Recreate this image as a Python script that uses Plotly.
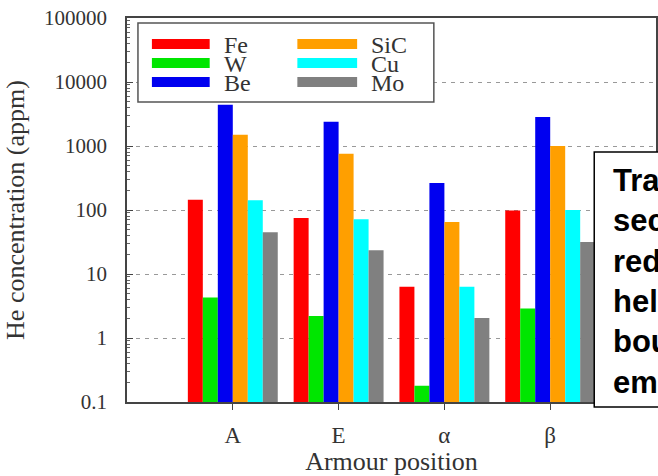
import plotly.graph_objects as go

categories = ["A", "E", "α", "β"]
series_names = ["Fe", "W", "Be", "SiC", "Cu", "Mo"]
fe_vals = [145, 75, 6.3, 98]
w_vals = [4.3, 2.2, 0.18, 2.9]
be_vals = [4400, 2400, 265, 2850]
sic_vals = [1500, 760, 65, 1000]
cu_vals = [142, 72, 6.3, 100]
mo_vals = [45, 23.5, 2.05, 31.5]
series_values = [fe_vals, w_vals, be_vals, sic_vals, cu_vals, mo_vals]
colors = ["#ff0000", "#00e600", "#0000f0", "#ff9f00", "#00ffff", "#808080"]
ytick_vals = [0.1, 1, 10, 100, 1000, 10000, 100000]
ytick_text = ["0.1", "1", "10", "100", "1000", "10000", "100000"]
box_lines = ["Transmutation products:", "second-phase formation,", "reduced conductivity,",
             "helium bubbles at grain", "boundaries,", "embrittlement"]

W, H = 658, 476
ML, MR, MT, MB = 127, 0, 18, 74
PW, PH = W - ML - MR, H - MT - MB
SERIF = "Liberation Serif, Times New Roman, serif"


def px(x):
    return (x - ML) / PW


def py(y):
    return (H - MB - y) / PH


fig = go.Figure()
for name, vals, col in zip(series_names, series_values, colors):
    fig.add_trace(go.Bar(x=categories, y=vals, name=name, marker=dict(color=col, line=dict(width=0)),
                         showlegend=False))

shapes = []
annotations = []
# legend frame
shapes.append(dict(type="rect", xref="paper", yref="paper", x0=px(138), x1=px(435), y0=py(102), y1=py(23),
                   line=dict(color="#555555", width=1.5), fillcolor="white", layer="above"))
row_y = [44, 63, 82]
col_x = [(152, 210, 222), (298, 358, 370)]
for i, (name, col) in enumerate(zip(series_names, colors)):
    c = i // 3
    r = i % 3
    x0, x1, xt = col_x[c]
    yc = row_y[r]
    shapes.append(dict(type="rect", xref="paper", yref="paper", x0=px(x0), x1=px(x1), y0=py(yc + 5), y1=py(yc - 5),
                       line=dict(width=0), fillcolor=col, layer="above"))
    annotations.append(dict(text=name, xref="paper", yref="paper", x=px(xt), y=py(yc + 1), xanchor="left",
                            yanchor="middle", showarrow=False, font=dict(family=SERIF, size=24, color="#333")))

# text box (extends past the right edge of the picture)
shapes.append(dict(type="rect", xref="paper", yref="paper", x0=px(596), x1=px(760), y0=py(407), y1=py(152),
                   line=dict(color="black", width=1.5), fillcolor="white", layer="above"))
annotations.append(dict(text="<br>".join("<b>%s</b>" % s for s in box_lines), xref="paper", yref="paper",
                        x=px(614), y=py(162), xanchor="left", yanchor="top", align="left", showarrow=False,
                        font=dict(family="Liberation Sans, Arial, sans-serif", size=31, color="black"),
                        borderpad=0))

fig.update_layout(
    width=W, height=H, margin=dict(l=ML, r=MR, t=MT, b=MB),
    paper_bgcolor="white", plot_bgcolor="white",
    barmode="group", bargap=0.15, bargroupgap=0,
    shapes=shapes, annotations=annotations, showlegend=False,
    font=dict(family=SERIF, color="#333"),
)
fig.update_xaxes(
    range=[-1, 4], showgrid=False, showline=True, linecolor="#444", linewidth=1.5, mirror=True,
    ticks="outside", ticklen=6, tickcolor="#444", ticklabelstandoff=6,
    tickfont=dict(family=SERIF, size=23, color="#333"),
    title=dict(text="Armour position", font=dict(family=SERIF, size=26, color="#333"), standoff=2),
)
fig.update_yaxes(
    type="log", range=[-1, 5], tickvals=ytick_vals, ticktext=ytick_text,
    showgrid=True, gridcolor="#999", griddash="4px,5px", gridwidth=1.2,
    showline=True, linecolor="#444", linewidth=1.5, mirror=True,
    ticks="inside", ticklen=6, tickcolor="#444", ticklabelstandoff=14,
    minor=dict(ticks="inside", ticklen=3, tickcolor="#666", dtick="D1", showgrid=False),
    tickfont=dict(family=SERIF, size=21, color="#333"),
    title=dict(text="He concentration (appm)", font=dict(family=SERIF, size=26, color="#333"), standoff=12),
)
fig.write_html("out.html", config={"displayModeBar": False},
               post_script="document.body.style.margin='0';document.body.style.overflow='hidden';")
